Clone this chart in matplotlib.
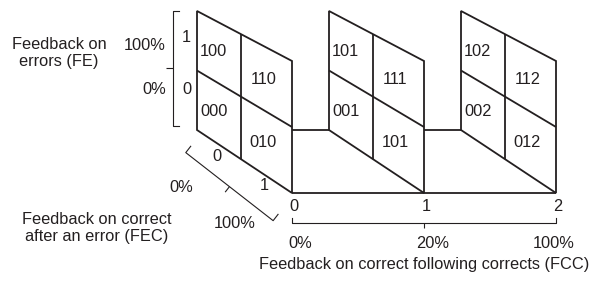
import numpy as np
import matplotlib
matplotlib.use("Agg")
import matplotlib.pyplot as plt
from matplotlib.patches import Polygon

plt.rcParams['font.family'] = ['Liberation Sans', 'DejaVu Sans']

# factor levels
fcc_levels = ['0', '1', '2']
fcc_pct = ['0%', '20%', '100%']
fec_levels = ['0', '1']
fec_pct = ['0%', '100%']
fe_levels = ['0', '1']
fe_pct = ['0%', '100%']

# condition codes for each FCC panel, rows = FE (1 top, 0 bottom), cols = FEC (0 back, 1 front)
codes_fcc0 = [['100', '110'], ['000', '010']]
codes_fcc1 = [['101', '111'], ['001', '101']]
codes_fcc2 = [['102', '112'], ['002', '012']]
panel_codes = [codes_fcc0, codes_fcc1, codes_fcc2]

INK = '#231f20'
FS = 11.8

# simple perspective projection, u = FCC, v = FEC (depth), w = FE (height)
X0, Y0 = 197, 130
DX, DY = 95, 63
U_STEP = 132
H_BACK, H_FRONT = 119, 132
K = -0.14


def proj(u, v, w):
    t = v * (1 + K) / (1 + K * v)
    x = X0 + U_STEP * u + DX * t
    y = Y0 + DY * t - (H_BACK + (H_FRONT - H_BACK) * t) * w
    return x, y


def seg(ax, p, q, lw=1.3, z=2):
    ax.plot([p[0], q[0]], [p[1], q[1]], color=INK, lw=lw, zorder=z,
            solid_capstyle='butt')


def bracket(ax, p0, p1, hook=6, tick=6, lw=0.8):
    p0, p1 = np.array(p0, float), np.array(p1, float)
    d = (p1 - p0) / np.linalg.norm(p1 - p0)
    n = np.array([d[1], -d[0]])
    pts = [p0 + n * hook, p0, p1, p1 + n * hook]
    ax.plot([p[0] for p in pts], [p[1] for p in pts], color=INK, lw=lw)
    m = (p0 + p1) / 2
    seg(ax, m, m - n * tick, lw=lw)


fig = plt.figure(figsize=(6.16, 2.86), dpi=100)
ax = fig.add_axes([0, 0, 1, 1])
ax.set_xlim(0, 616)
ax.set_ylim(286, 0)
ax.axis('off')

n_fcc = len(fcc_levels) - 1
# back edge of the floor (hidden behind panels)
seg(ax, proj(0, 0, 0), proj(n_fcc, 0, 0), z=1)

for u, codes in enumerate(panel_codes):
    corners = [proj(u, 0, 0), proj(u, 0, 1), proj(u, 1, 1), proj(u, 1, 0)]
    ax.add_patch(Polygon(corners, closed=True, facecolor='white',
                         edgecolor=INK, lw=1.3, zorder=2))
    seg(ax, proj(u, 0.5, 0), proj(u, 0.5, 1), z=2.5)
    seg(ax, proj(u, 0, 0.5), proj(u, 1, 0.5), z=2.5)
    for r, w in enumerate([0.74, 0.245]):
        for c, v in enumerate([0.2, 0.73]):
            x, y = proj(u, v, w)
            ax.text(x, y, codes[r][c], ha='center', va='center',
                    fontsize=FS, color=INK, zorder=4)

# front edge of the floor
seg(ax, proj(0, 1, 0), proj(n_fcc, 1, 0), z=3)

# FE axis (left)
for lvl, w in zip(fe_levels, [0.34, 0.78]):
    x, y = proj(-0.08, 0, w)
    ax.text(x, y, lvl, ha='center', va='center', fontsize=FS, color=INK)
for pct, y in zip(fe_pct, [90, 45]):
    ax.text(166, y, pct, ha='right', va='center', fontsize=FS, color=INK)
bracket(ax, proj(-0.185, 0, 1.0), proj(-0.185, 0, 0.035), hook=6, tick=7)
ax.text(59, 53, 'Feedback on\nerrors (FE)', ha='center', va='center',
        fontsize=FS, color=INK, linespacing=1.15)

# FEC axis (depth)
for lvl, v, w in zip(fec_levels, [0.25, 0.75], [-0.1, -0.08]):
    x, y = proj(0, v, w)
    ax.text(x - 1, y, lvl, ha='center', va='center', fontsize=FS, color=INK)
bracket(ax, proj(-0.085, 0, -0.19), proj(-0.085, 0.93, -0.25), hook=8, tick=7)
for pct, (x, y) in zip(fec_pct, [(181, 187), (235, 223)]):
    ax.text(x, y, pct, ha='center', va='center', fontsize=FS, color=INK)
ax.text(97, 228, 'Feedback on correct\nafter an error (FEC)', ha='center',
        va='center', fontsize=FS, color=INK, linespacing=1.15)

# FCC axis (bottom)
for u, lvl in enumerate(fcc_levels):
    x, y = proj(u, 1, -0.1)
    ax.text(x + 2, y, lvl, ha='center', va='center', fontsize=FS, color=INK)
bracket(ax, proj(0, 1, -0.23), proj(n_fcc, 1, -0.23), hook=5, tick=5)
for pct, x in zip(fcc_pct, [300, 433, 554]):
    ax.text(x, 244, pct, ha='center', va='center', fontsize=FS, color=INK)
ax.text(259, 265, 'Feedback on correct following corrects (FCC)', ha='left',
        va='center', fontsize=FS, color=INK)

plt.savefig('out.png', dpi=100)
